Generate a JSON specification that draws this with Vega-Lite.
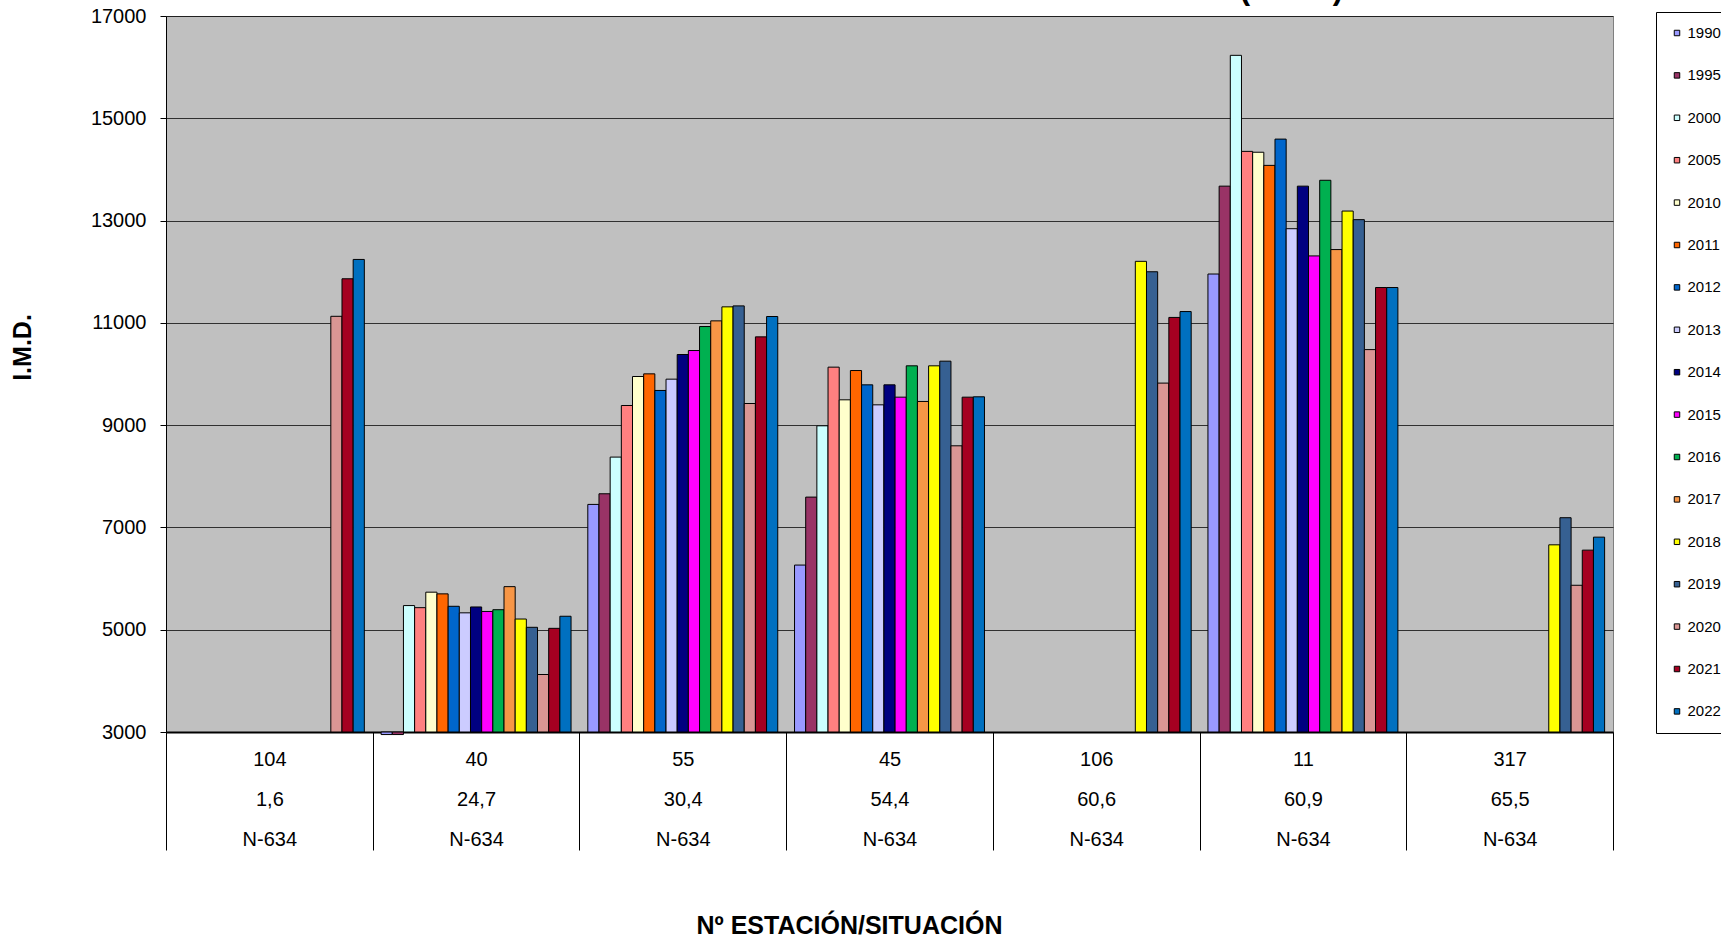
{
  "$schema": "https://vega.github.io/schema/vega-lite/v6.json",
  "width": 1447,
  "height": 716,
  "autosize": {"type": "none"},
  "padding": {"left": 166, "top": 16, "right": 108, "bottom": 207},
  "background": "white",
  "title": {"text": "INTENSIDAD MEDIA DIARIA EN LA N-634 (I.M.D.)", "anchor": "end", "dx": -270, "fontSize": 31, "font": "Liberation Sans", "fontWeight": "bold", "color": "black", "baseline": "alphabetic", "offset": -24, "frame": "group"},
  "data": {"values": [
    {"estacion": "104|1,6|N-634", "anio": "2020", "imd": 11128},
    {"estacion": "104|1,6|N-634", "anio": "2021", "imd": 11862},
    {"estacion": "104|1,6|N-634", "anio": "2022", "imd": 12240},
    {"estacion": "40|24,7|N-634", "anio": "1990", "imd": 2950},
    {"estacion": "40|24,7|N-634", "anio": "1995", "imd": 2950},
    {"estacion": "40|24,7|N-634", "anio": "2000", "imd": 5472},
    {"estacion": "40|24,7|N-634", "anio": "2005", "imd": 5431},
    {"estacion": "40|24,7|N-634", "anio": "2010", "imd": 5734},
    {"estacion": "40|24,7|N-634", "anio": "2011", "imd": 5701},
    {"estacion": "40|24,7|N-634", "anio": "2012", "imd": 5458},
    {"estacion": "40|24,7|N-634", "anio": "2013", "imd": 5330},
    {"estacion": "40|24,7|N-634", "anio": "2014", "imd": 5445},
    {"estacion": "40|24,7|N-634", "anio": "2015", "imd": 5357},
    {"estacion": "40|24,7|N-634", "anio": "2016", "imd": 5391},
    {"estacion": "40|24,7|N-634", "anio": "2017", "imd": 5842},
    {"estacion": "40|24,7|N-634", "anio": "2018", "imd": 5209},
    {"estacion": "40|24,7|N-634", "anio": "2019", "imd": 5047},
    {"estacion": "40|24,7|N-634", "anio": "2020", "imd": 4124},
    {"estacion": "40|24,7|N-634", "anio": "2021", "imd": 5027},
    {"estacion": "40|24,7|N-634", "anio": "2022", "imd": 5263},
    {"estacion": "55|30,4|N-634", "anio": "1990", "imd": 7450},
    {"estacion": "55|30,4|N-634", "anio": "1995", "imd": 7658},
    {"estacion": "55|30,4|N-634", "anio": "2000", "imd": 8375},
    {"estacion": "55|30,4|N-634", "anio": "2005", "imd": 9384},
    {"estacion": "55|30,4|N-634", "anio": "2010", "imd": 9951},
    {"estacion": "55|30,4|N-634", "anio": "2011", "imd": 10003},
    {"estacion": "55|30,4|N-634", "anio": "2012", "imd": 9678},
    {"estacion": "55|30,4|N-634", "anio": "2013", "imd": 9899},
    {"estacion": "55|30,4|N-634", "anio": "2014", "imd": 10381},
    {"estacion": "55|30,4|N-634", "anio": "2015", "imd": 10459},
    {"estacion": "55|30,4|N-634", "anio": "2016", "imd": 10928},
    {"estacion": "55|30,4|N-634", "anio": "2017", "imd": 11039},
    {"estacion": "55|30,4|N-634", "anio": "2018", "imd": 11313},
    {"estacion": "55|30,4|N-634", "anio": "2019", "imd": 11332},
    {"estacion": "55|30,4|N-634", "anio": "2020", "imd": 9423},
    {"estacion": "55|30,4|N-634", "anio": "2021", "imd": 10726},
    {"estacion": "55|30,4|N-634", "anio": "2022", "imd": 11124},
    {"estacion": "45|54,4|N-634", "anio": "1990", "imd": 6264},
    {"estacion": "45|54,4|N-634", "anio": "1995", "imd": 7593},
    {"estacion": "45|54,4|N-634", "anio": "2000", "imd": 8987},
    {"estacion": "45|54,4|N-634", "anio": "2005", "imd": 10134},
    {"estacion": "45|54,4|N-634", "anio": "2010", "imd": 9495},
    {"estacion": "45|54,4|N-634", "anio": "2011", "imd": 10068},
    {"estacion": "45|54,4|N-634", "anio": "2012", "imd": 9788},
    {"estacion": "45|54,4|N-634", "anio": "2013", "imd": 9397},
    {"estacion": "45|54,4|N-634", "anio": "2014", "imd": 9788},
    {"estacion": "45|54,4|N-634", "anio": "2015", "imd": 9547},
    {"estacion": "45|54,4|N-634", "anio": "2016", "imd": 10160},
    {"estacion": "45|54,4|N-634", "anio": "2017", "imd": 9463},
    {"estacion": "45|54,4|N-634", "anio": "2018", "imd": 10160},
    {"estacion": "45|54,4|N-634", "anio": "2019", "imd": 10251},
    {"estacion": "45|54,4|N-634", "anio": "2020", "imd": 8596},
    {"estacion": "45|54,4|N-634", "anio": "2021", "imd": 9547},
    {"estacion": "45|54,4|N-634", "anio": "2022", "imd": 9554},
    {"estacion": "106|60,6|N-634", "anio": "2018", "imd": 12203},
    {"estacion": "106|60,6|N-634", "anio": "2019", "imd": 11999},
    {"estacion": "106|60,6|N-634", "anio": "2020", "imd": 9822},
    {"estacion": "106|60,6|N-634", "anio": "2021", "imd": 11106},
    {"estacion": "106|60,6|N-634", "anio": "2022", "imd": 11221},
    {"estacion": "11|60,9|N-634", "anio": "1990", "imd": 11955},
    {"estacion": "11|60,9|N-634", "anio": "1995", "imd": 13673},
    {"estacion": "11|60,9|N-634", "anio": "2000", "imd": 16231},
    {"estacion": "11|60,9|N-634", "anio": "2005", "imd": 14353},
    {"estacion": "11|60,9|N-634", "anio": "2010", "imd": 14336},
    {"estacion": "11|60,9|N-634", "anio": "2011", "imd": 14079},
    {"estacion": "11|60,9|N-634", "anio": "2012", "imd": 14593},
    {"estacion": "11|60,9|N-634", "anio": "2013", "imd": 12841},
    {"estacion": "11|60,9|N-634", "anio": "2014", "imd": 13673},
    {"estacion": "11|60,9|N-634", "anio": "2015", "imd": 12309},
    {"estacion": "11|60,9|N-634", "anio": "2016", "imd": 13788},
    {"estacion": "11|60,9|N-634", "anio": "2017", "imd": 12433},
    {"estacion": "11|60,9|N-634", "anio": "2018", "imd": 13186},
    {"estacion": "11|60,9|N-634", "anio": "2019", "imd": 13018},
    {"estacion": "11|60,9|N-634", "anio": "2020", "imd": 10477},
    {"estacion": "11|60,9|N-634", "anio": "2021", "imd": 11691},
    {"estacion": "11|60,9|N-634", "anio": "2022", "imd": 11691},
    {"estacion": "317|65,5|N-634", "anio": "2018", "imd": 6660},
    {"estacion": "317|65,5|N-634", "anio": "2019", "imd": 7190},
    {"estacion": "317|65,5|N-634", "anio": "2020", "imd": 5869},
    {"estacion": "317|65,5|N-634", "anio": "2021", "imd": 6556},
    {"estacion": "317|65,5|N-634", "anio": "2022", "imd": 6810}
  ]},
  "mark": {"type": "bar", "stroke": "black", "strokeWidth": 1, "clip": false},
  "encoding": {
    "x": {
      "field": "estacion", "type": "nominal",
      "sort": ["104|1,6|N-634", "40|24,7|N-634", "55|30,4|N-634", "45|54,4|N-634", "106|60,6|N-634", "11|60,9|N-634", "317|65,5|N-634"],
      "scale": {"paddingInner": 0, "paddingOuter": 0},
      "axis": {
        "title": "Nº ESTACIÓN/SITUACIÓN", "titleFont": "Liberation Sans", "titleFontSize": 25, "titleFontWeight": "bold", "titleColor": "black",
        "titleX": 683, "titleY": 193, "titleBaseline": "middle",
        "labelExpr": "split(datum.label, '|')", "labelAngle": 0, "labelFont": "Liberation Sans", "labelFontSize": 20, "labelColor": "black",
        "labelLineHeight": 40, "labelBaseline": "top", "labelPadding": -101, "labelOverlap": false, "labelBound": false,
        "tickBand": "extent", "tickSize": 118, "tickColor": "black", "tickWidth": 1,
        "domainColor": "black", "domainWidth": 2, "grid": false
      }
    },
    "xOffset": {
      "field": "anio", "type": "nominal",
      "scale": {"domain": ["1990","1995","2000","2005","2010","2011","2012","2013","2014","2015","2016","2017","2018","2019","2020","2021","2022"], "paddingInner": 0, "paddingOuter": 0.75}
    },
    "y": {
      "field": "imd", "type": "quantitative",
      "scale": {"domain": [3000, 17000], "nice": false, "zero": false},
      "axis": {
        "title": "I.M.D.", "titleFont": "Liberation Sans", "titleFontSize": 25, "titleFontWeight": "bold", "titleColor": "black", "titlePadding": 55, "titleY": 331,
        "values": [3000, 5000, 7000, 9000, 11000, 13000, 15000, 17000], "format": "d",
        "labelFont": "Liberation Sans", "labelFontSize": 20, "labelColor": "black", "labelPadding": 14, "labelFlush": false,
        "tickSize": 6, "tickColor": "black", "domainColor": "black",
        "grid": true, "gridColor": "#000000", "gridOpacity": 0.75
      }
    },
    "y2": {"datum": 3000},
    "color": {
      "field": "anio", "type": "nominal",
      "scale": {
        "domain": ["1990","1995","2000","2005","2010","2011","2012","2013","2014","2015","2016","2017","2018","2019","2020","2021","2022"],
        "range": ["#9999FF","#993366","#CCFFFF","#FF8080","#FFFFCC","#FF6600","#0066CC","#CCCCFF","#000080","#FF00FF","#00B050","#F79646","#FFFF00","#366092","#DA9694","#A50021","#0070C0"]
      },
      "legend": {
        "title": null, "orient": "none", "legendX": 1490, "legendY": -4,
        "strokeColor": "black", "fillColor": "white", "padding": 13.5,
        "labelFont": "Liberation Sans", "labelFontSize": 15, "labelColor": "black", "labelOffset": 3,
        "symbolType": "square", "symbolSize": 30, "symbolStrokeColor": "black", "symbolStrokeWidth": 1, "symbolOpacity": 1,
        "rowPadding": 26.4
      }
    }
  },
  "config": {
    "view": {"fill": "#C0C0C0", "stroke": "#808080", "strokeWidth": 1},
    "font": "Liberation Sans"
  }
}
